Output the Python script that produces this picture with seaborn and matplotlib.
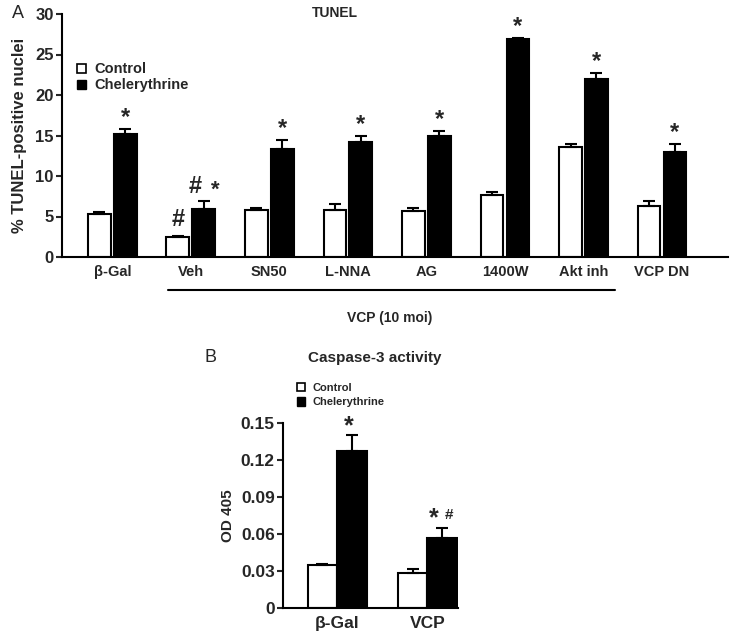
import pandas as pd
import matplotlib
matplotlib.use("Agg")
import matplotlib.pyplot as plt
import seaborn as sns
from matplotlib.patches import Patch

# Panel A: TUNEL
groups_a = ["β-Gal", "Veh", "SN50", "L-NNA", "AG", "1400W", "Akt inh", "VCP DN"]
ctrl_a = [5.3, 2.5, 5.8, 5.8, 5.7, 7.6, 13.6, 6.3]
ctrl_a_err = [0.3, 0.15, 0.25, 0.7, 0.4, 0.45, 0.35, 0.65]
chel_a = [15.2, 5.9, 13.3, 14.2, 15.0, 26.9, 22.0, 13.0]
chel_a_err = [0.65, 1.0, 1.2, 0.75, 0.6, 0.1, 0.75, 1.0]

# Panel B: Caspase-3 activity
groups_b = ["β-Gal", "VCP"]
ctrl_b = [0.035, 0.028]
ctrl_b_err = [0.001, 0.004]
chel_b = [0.127, 0.057]
chel_b_err = [0.013, 0.008]

conditions = ["Control", "Chelerythrine"]


def long_df(groups, ctrl, chel):
    rows = []
    for g, v in zip(groups, ctrl):
        rows.append((g, "Control", v))
    for g, v in zip(groups, chel):
        rows.append((g, "Chelerythrine", v))
    return pd.DataFrame(rows, columns=["group", "condition", "value"])


def draw(ax, df, errs, width, gap, cap):
    sns.barplot(data=df, x="group", y="value", hue="condition", hue_order=conditions,
                palette={"Control": "white", "Chelerythrine": "black"},
                edgecolor="black", linewidth=1.5, width=width, gap=gap,
                errorbar=None, legend=False, ax=ax)
    centers = []
    for cont, err in zip(ax.containers, errs):
        xs = [b.get_x() + b.get_width() / 2 for b in cont]
        ys = [b.get_height() for b in cont]
        ax.errorbar(xs, ys, yerr=[[0] * len(err), err], fmt="none", ecolor="black",
                    elinewidth=1.5, capsize=cap, capthick=1.5, zorder=5)
        centers.append(list(zip(xs, [y + e for y, e in zip(ys, err)])))
    return centers


def style_axis(ax, ysize, xsize):
    ax.set_xlabel("")
    ax.tick_params(axis="y", direction="out", length=4, width=1.5, left=True, labelsize=ysize, pad=2)
    ax.tick_params(axis="x", length=0, labelsize=xsize, pad=6)
    for s in ["top", "right"]:
        ax.spines[s].set_visible(False)
    for s in ["left", "bottom"]:
        ax.spines[s].set_linewidth(1.5)
        ax.spines[s].set_color("black")
    for lab in ax.get_xticklabels() + ax.get_yticklabels():
        lab.set_fontweight("bold")


sns.set_theme(style="white")
plt.rcParams["font.family"] = ["Liberation Sans", "DejaVu Sans"]
plt.rcParams["font.weight"] = "bold"

fig = plt.figure(figsize=(7.32, 6.37), dpi=100)

# ---------- Panel A ----------
axA = fig.add_axes([62 / 732, 1 - 257 / 637, 666 / 732, 243 / 637])
pts = draw(axA, long_df(groups_a, ctrl_a, chel_a), [ctrl_a_err, chel_a_err], 0.66, 0.12, 4)
axA.set_xlim(-0.64, 7.84)
axA.set_ylim(0, 30)
axA.set_yticks([0, 5, 10, 15, 20, 25, 30])
axA.set_ylabel("% TUNEL-positive nuclei", fontsize=12, fontweight="bold", labelpad=6)
style_axis(axA, 12, 10.5)

for i, (x, top) in enumerate(pts[1]):
    if i == 1:
        axA.annotate("#", (x, top), xytext=(-6, 2), textcoords="offset points",
                     ha="center", va="bottom", fontsize=17, fontweight="bold")
        axA.annotate("*", (x, top), xytext=(8, 0), textcoords="offset points",
                     ha="center", va="bottom", fontsize=16, fontweight="bold")
    else:
        axA.annotate("*", (x, top), xytext=(0, 0), textcoords="offset points",
                     ha="center", va="bottom", fontsize=17, fontweight="bold")
x, top = pts[0][1]
axA.annotate("#", (x, top), xytext=(0, 3), textcoords="offset points",
             ha="center", va="bottom", fontsize=17, fontweight="bold")

axA.set_title("TUNEL", fontsize=10, fontweight="bold", x=0.41, y=1.0, pad=-2)
axA.legend(handles=[Patch(facecolor="white", edgecolor="black", linewidth=1.2),
                    Patch(facecolor="black", edgecolor="black")],
           labels=conditions, loc="upper left", bbox_to_anchor=(70 / 732, 1 - 55 / 637),
           bbox_transform=fig.transFigure, frameon=False,
           handlelength=0.6, handleheight=0.6, handletextpad=0.6, labelspacing=0.15,
           borderpad=0, prop={"weight": "bold", "size": 10.5})

# VCP underline and label
fig.add_artist(plt.Line2D([168 / 732, 615 / 732], [1 - 290 / 637] * 2,
                          color="black", linewidth=1.5))
fig.text(390 / 732, 1 - 318 / 637, "VCP (10 moi)", ha="center", va="center",
         fontsize=10, fontweight="bold")
fig.text(12 / 732, 1 - 14 / 637, "A", ha="left", va="center", fontsize=13, fontweight="normal")

# ---------- Panel B ----------
axB = fig.add_axes([283 / 732, 1 - 608 / 637, 175 / 732, 185 / 637])
ptsB = draw(axB, long_df(groups_b, ctrl_b, chel_b), [ctrl_b_err, chel_b_err], 0.656, 0, 4)
axB.set_xlim(-0.6, 1.34)
axB.set_ylim(0, 0.15)
axB.set_yticks([0, 0.03, 0.06, 0.09, 0.12, 0.15])
axB.set_yticklabels(["0", "0.03", "0.06", "0.09", "0.12", "0.15"])
axB.set_ylabel("OD 405", fontsize=11, fontweight="bold", labelpad=4)
style_axis(axB, 12.5, 12.5)

x, top = ptsB[1][0]
axB.annotate("*", (x, top), xytext=(-2, -2), textcoords="offset points",
             ha="center", va="bottom", fontsize=18, fontweight="bold")
x, top = ptsB[1][1]
axB.annotate("*", (x, top), xytext=(-6, -2), textcoords="offset points",
             ha="center", va="bottom", fontsize=18, fontweight="bold")
axB.annotate("#", (x, top), xytext=(5, 4), textcoords="offset points",
             ha="center", va="bottom", fontsize=11, fontweight="bold")

fig.text(205 / 732, 1 - 358 / 637, "B", ha="left", va="center", fontsize=13, fontweight="normal")
fig.text(375 / 732, 1 - 358 / 637, "Caspase-3 activity", ha="center", va="center",
         fontsize=11, fontweight="bold")
axB.legend(handles=[Patch(facecolor="white", edgecolor="black", linewidth=1.2),
                    Patch(facecolor="black", edgecolor="black")],
           labels=conditions, loc="upper left", bbox_to_anchor=(291 / 732, 1 - 377 / 637),
           bbox_transform=fig.transFigure, frameon=False,
           handlelength=0.8, handleheight=0.8, handletextpad=0.6, labelspacing=0.4,
           borderpad=0, prop={"weight": "bold", "size": 8})

fig.savefig("out.png", dpi=100)
